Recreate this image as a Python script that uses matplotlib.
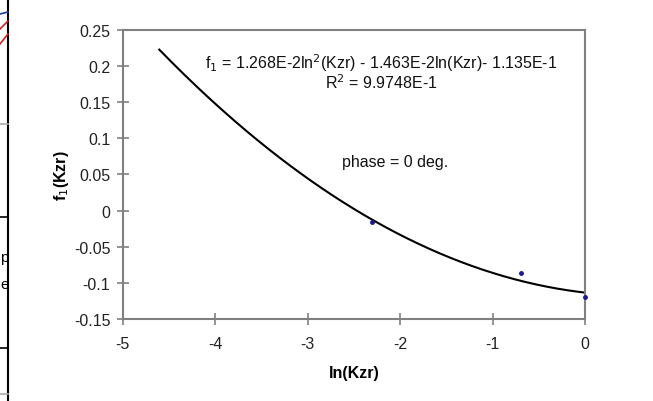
import matplotlib.pyplot as plt
import numpy as np
from matplotlib.lines import Line2D

plt.rcParams['font.family'] = ['Liberation Sans', 'DejaVu Sans']

# measured points, x = ln(Kzr)
lnk = [-2.303, -0.693, 0.0]
f1 = [-0.016, -0.086, -0.119]

# quadratic fit coefficients (from the chart's equation), drawn over ln(Kzr) = -4.6 .. 0
c2 = 1.268e-2
c1 = -1.463e-2
c0 = -1.135e-1
fit_from, fit_to = -4.605, 0.0

xticks = [-5, -4, -3, -2, -1, 0]
yticks = [-0.15, -0.1, -0.05, 0, 0.05, 0.1, 0.15, 0.2, 0.25]
ylabels = ['-0.15', '-0.1', '-0.05', '0', '0.05', '0.1', '0.15', '0.2', '0.25']

fs = 11.5
fig = plt.figure(figsize=(6.53, 4.02), dpi=100)
ax = fig.add_axes([0.188, 0.204, 0.708, 0.719])

xf = np.linspace(fit_from, fit_to, 200)
ax.plot(xf, c2 * xf**2 + c1 * xf + c0, color='black', lw=1.5, zorder=2)
ax.plot(lnk, f1, 'o', color='#1a1a8c', ms=2.5, zorder=3, clip_on=False)

ax.set_xlim(-5, 0)
ax.set_ylim(-0.15, 0.25)
ax.set_xticks(xticks)
ax.set_xticklabels([str(t) for t in xticks])
ax.set_yticks(yticks)
ax.set_yticklabels(ylabels)
for s in ax.spines.values():
    s.set_color('#808080')
    s.set_linewidth(1.5)
ax.tick_params(direction='inout', length=8, width=1.2, color='#808080',
               labelsize=fs, labelcolor='#222222', pad=5)
ax.tick_params(axis='x', pad=8)

ax.set_xlabel('ln(Kzr)', fontsize=fs, fontweight='bold', labelpad=10)
ax.set_ylabel('f$_1$(Kzr)', fontsize=fs, fontweight='bold', labelpad=2)

ax.text(-2.2, 0.206, 'f$_1$ = 1.268E-2ln$^2$(Kzr) - 1.463E-2ln(Kzr)- 1.135E-1',
        fontsize=fs, ha='center', va='center', color='#111111')
ax.text(-2.2, 0.178, 'R$^2$ = 9.9748E-1', fontsize=fs, ha='center', va='center', color='#111111')
ax.text(-2.05, 0.068, 'phase = 0 deg.', fontsize=fs, ha='center', va='center', color='#111111')

# bits of the neighbouring figure cut off at the left edge
H = 402.0
fig.add_artist(Line2D([8/653, 8/653], [0, 1], color='black', lw=1.5))
for y, c in [(218, 'black'), (349, 'black'), (125, '#aaaaaa'), (395, '#aaaaaa')]:
    fig.add_artist(Line2D([0, 8/653], [1 - y/H, 1 - y/H], color=c, lw=1.2))
fig.add_artist(Line2D([0, 8/653], [1 - 15/H, 1 - 13/H], color='#1a3a9c', lw=1.2))
fig.add_artist(Line2D([0, 8/653], [1 - 30/H, 1 - 22/H], color='#d02020', lw=1.2))
fig.add_artist(Line2D([0, 8/653], [1 - 45/H, 1 - 35/H], color='#d02020', lw=1.2))
fig.text(0, 1 - 258/H, 'p', fontsize=11, va='center', ha='left')
fig.text(0, 1 - 285/H, 'e', fontsize=11, va='center', ha='left')

fig.savefig('out.png', dpi=100)
